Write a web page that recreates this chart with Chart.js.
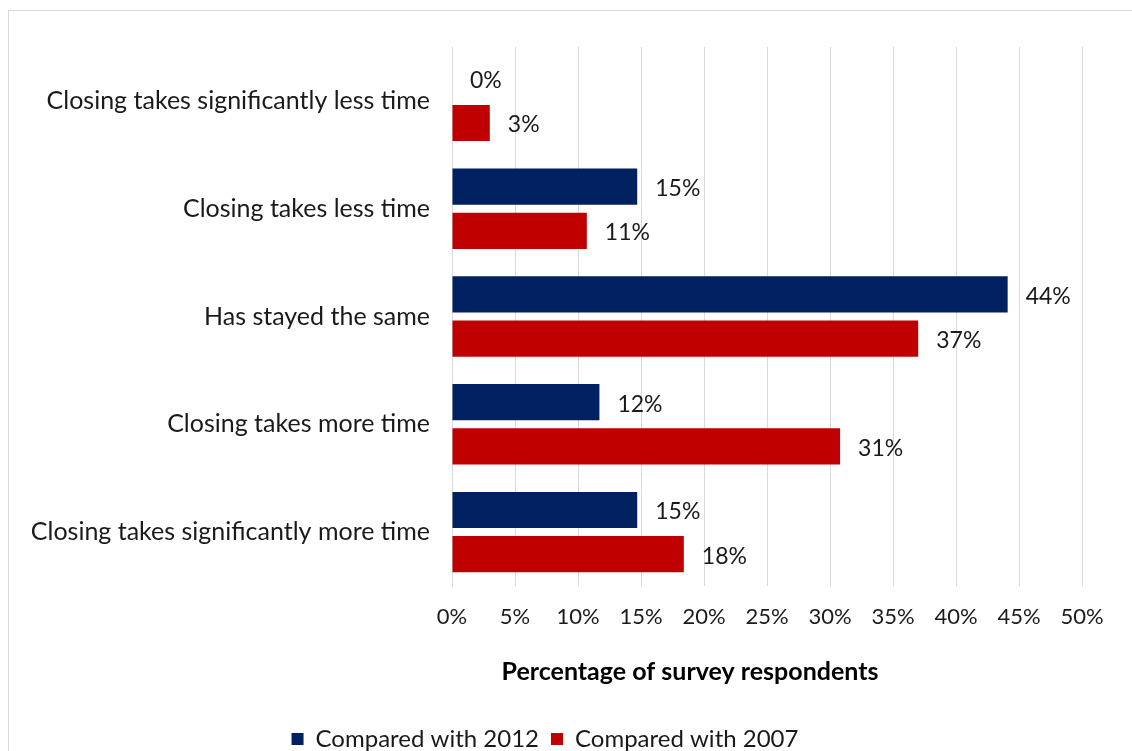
<!DOCTYPE html>
<html>
<head>
<meta charset="utf-8">
<script src="https://cdn.jsdelivr.net/npm/chart.js@4/dist/chart.umd.min.js"></script>
<style>
  html, body { margin: 0; padding: 0; background: #fff; }
  #wrap { width: 1132px; height: 751px; position: relative; }
</style>
</head>
<body>
<div id="wrap"><canvas id="chart"></canvas></div>
<script>
// categories and series
var categories = [
  'Closing takes significantly less time',
  'Closing takes less time',
  'Has stayed the same',
  'Closing takes more time',
  'Closing takes significantly more time'
];
var seriesNames = ['Compared with 2012', 'Compared with 2007'];
var values2012 = [0, 14.7, 44.1, 11.7, 14.7];
var values2007 = [3.0, 10.7, 37.0, 30.8, 18.4];
var xTicks = [0, 5, 10, 15, 20, 25, 30, 35, 40, 45, 50];
var axisTitle = 'Percentage of survey respondents';

var FONT = 'Lato, "Open Sans", sans-serif';

// grey frame around the chart, axis title, value labels
var extras = {
  id: 'extras',
  beforeDraw: function(chart) {
    var ctx = chart.ctx;
    ctx.save();
    ctx.strokeStyle = '#d9d9d9';
    ctx.lineWidth = 1;
    ctx.strokeRect(8.5, 10.5, 1200, 800);
    ctx.restore();
  },
  afterDatasetsDraw: function(chart) {
    var ctx = chart.ctx;
    ctx.save();
    ctx.font = '23px ' + FONT;
    ctx.fillStyle = '#1a1a1a';
    ctx.textAlign = 'left';
    ctx.textBaseline = 'middle';
    chart.data.datasets.forEach(function(ds, i) {
      var meta = chart.getDatasetMeta(i);
      meta.data.forEach(function(bar, j) {
        ctx.fillText(Math.round(ds.data[j]) + '%', bar.x + 18, bar.y + 2);
      });
    });
    // axis title
    ctx.font = 'bold 25px ' + FONT;
    ctx.fillStyle = '#000';
    ctx.textAlign = 'center';
    ctx.fillText(axisTitle, 690, 672);
    ctx.restore();
  }
};

var ctx = document.getElementById('chart').getContext('2d');
var chart = new Chart(ctx, {
  type: 'bar',
  data: {
    labels: categories,
    datasets: [
      {
        label: seriesNames[0],
        data: values2012,
        backgroundColor: '#002060',
        categoryPercentage: 0.82,
        barPercentage: 0.82
      },
      {
        label: seriesNames[1],
        data: values2007,
        backgroundColor: '#C00000',
        categoryPercentage: 0.82,
        barPercentage: 0.82
      }
    ]
  },
  options: {
    indexAxis: 'y',
    responsive: true,
    maintainAspectRatio: false,
    animation: false,
    layout: { padding: { top: 47, left: 8, right: 50, bottom: -10 } },
    scales: {
      x: {
        min: 0,
        max: 50,
        afterBuildTicks: function(scale) {
          scale.ticks = xTicks.map(function(v) { return { value: v }; });
        },
        afterFit: function(scale) { scale.height = 129; },
        ticks: {
          callback: function(v) { return v + '%'; },
          font: { family: FONT, size: 22 },
          color: '#1a1a1a',
          padding: 18,
          maxRotation: 0
        },
        grid: { color: '#d9d9d9', drawTicks: false },
        border: { display: false }
      },
      y: {
        afterFit: function(scale) { scale.width = 444; },
        ticks: {
          font: { family: FONT, size: 25 },
          color: '#1a1a1a',
          padding: 22
        },
        grid: { display: false, drawTicks: false },
        border: { color: '#d9d9d9' }
      }
    },
    plugins: {
      legend: {
        position: 'bottom',
        labels: {
          boxWidth: 12,
          boxHeight: 12,
          padding: 12,
          color: '#1a1a1a',
          font: { family: FONT, size: 24 }
        }
      },
      tooltip: { enabled: false }
    }
  },
  plugins: [extras]
});
</script>
</body>
</html>
